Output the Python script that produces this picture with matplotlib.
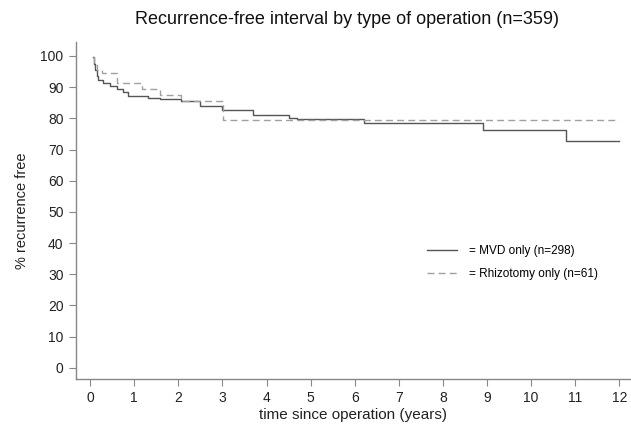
import numpy as np
import matplotlib
matplotlib.use('Agg')
import matplotlib.pyplot as plt

plt.rcParams['font.family'] = ['Liberation Sans', 'DejaVu Sans']

# MVD only (n=298) - years since operation / % recurrence free
mvd_t = [0.0, 0.06, 0.08, 0.11, 0.15, 0.19, 0.30, 0.45, 0.60, 0.75, 0.87, 1.32, 1.58,
         2.07, 2.50, 3.00, 3.70, 4.50, 4.70, 6.20, 8.90, 10.80, 12.0]
mvd_s = [100.0, 99.8, 97.5, 95.5, 93.5, 92.3, 91.2, 90.4, 89.3, 88.6, 87.2, 86.4, 86.1,
         85.4, 84.0, 82.7, 81.1, 80.0, 79.7, 78.4, 76.1, 72.7, 72.7]

# Rhizotomy only (n=61)
rhz_t = [0.0, 0.06, 0.10, 0.15, 0.26, 0.60, 1.17, 1.58, 2.05, 3.01, 12.0]
rhz_s = [100.0, 99.8, 97.0, 95.5, 94.4, 91.2, 89.3, 87.5, 85.4, 79.5, 79.5]

xticks = list(range(0, 13))
yticks = list(range(0, 101, 10))

fig = plt.figure(figsize=(6.31, 4.28), dpi=100)
ax = fig.add_axes([0.1204, 0.1145, 0.878, 0.7875])

ax.plot(mvd_t[1:], mvd_s[1:], drawstyle='steps-post', color='#555555', lw=1.0,
        label='= MVD only (n=298)')
ax.plot(rhz_t[1:], rhz_s[1:], drawstyle='steps-post', color='#a0a0a0', lw=1.0,
        linestyle=(0, (5, 3)), label='= Rhizotomy only (n=61)')

ax.set_xlim(-0.32, 12.24)
ax.set_ylim(-3.6, 104.5)
ax.set_xticks(xticks)
ax.set_yticks(yticks)
ax.tick_params(axis='both', direction='out', length=5, width=0.8, color='#888888',
               labelsize=10, labelcolor='#222222', pad=4)

for s in ['top', 'right']:
    ax.spines[s].set_visible(False)
for s in ['left', 'bottom']:
    ax.spines[s].set_color('#888888')
    ax.spines[s].set_linewidth(1.0)

ax.set_title('Recurrence-free interval by type of operation (n=359)', fontsize=13,
             color='#111111', pad=13, x=0.49)
ax.set_xlabel('time since operation (years)', fontsize=11, color='#222222', labelpad=2)
ax.set_ylabel('% recurrence free', fontsize=10.5, color='#222222', labelpad=8)

leg = ax.legend(loc='upper left', bbox_to_anchor=(0.614, 0.43), frameon=False,
                fontsize=8.5, handlelength=2.6, handletextpad=1.0, labelspacing=1.0)

fig.savefig('out.png', dpi=100)
